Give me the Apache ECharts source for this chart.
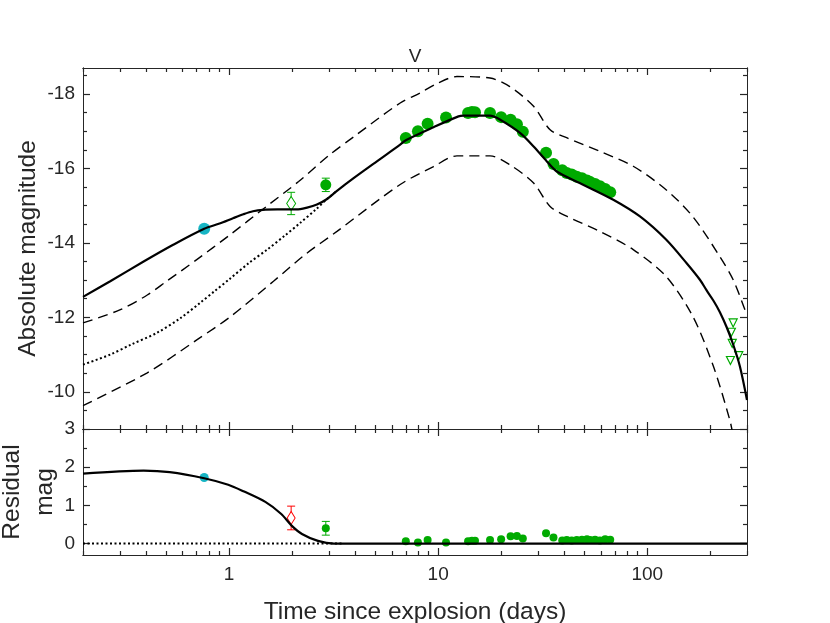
<!DOCTYPE html>
<html>
<head>
<meta charset="utf-8">
<script src="https://cdn.jsdelivr.net/npm/echarts@6/dist/echarts.min.js"></script>
<style>
html, body { margin: 0; padding: 0; background: #fff; }
#container { width: 830px; height: 623px; }
</style>
</head>
<body>
<div id="container"></div>
<script>
// ---- model curves (days, absolute mag) ----
var modelT   = [0.2, 0.27, 0.39, 0.54, 0.76, 0.9, 1.05, 1.17, 1.3, 1.45, 1.7, 2.1, 2.36, 2.63, 2.94, 3.28, 3.94, 5.0, 6.58, 7.0, 9.5, 12.5, 13.2, 17.7, 19.8, 24.7, 28.6, 33.1, 36.9, 47.5, 68.8, 92.3, 123, 154, 178.6, 192, 206.7, 222.6, 239.6, 257.6, 277.5, 300];
var modelMag = [-12.55, -12.97, -13.50, -13.95, -14.38, -14.52, -14.67, -14.77, -14.85, -14.89, -14.90, -14.90, -14.95, -15.03, -15.18, -15.40, -15.74, -16.16, -16.64, -16.76, -17.11, -17.40, -17.42, -17.42, -17.31, -16.95, -16.59, -16.19, -15.92, -15.61, -15.16, -14.71, -14.09, -13.46, -13.01, -12.73, -12.46, -12.14, -11.74, -11.27, -10.68, -9.78];

var baseT   = [0.2, 0.27, 0.34, 0.45, 0.585, 0.73, 0.85, 1.0, 1.25, 1.52, 1.85, 2.19, 2.6, 2.94, 3.28];
var baseMag = [-10.73, -11.00, -11.27, -11.58, -11.98, -12.40, -12.70, -13.02, -13.47, -13.82, -14.20, -14.54, -14.90, -15.18, -15.40];

var upperT   = [0.2, 0.3, 0.406, 0.505, 0.7, 1.0, 1.5, 2.15, 3.0, 3.94, 6.58, 8.2, 10, 12.3, 17.7, 22, 28.6, 34.3, 41.4, 59.3, 85.7, 123, 165, 222, 257.6, 293, 300];
var upperMag = [-11.85, -12.20, -12.60, -12.98, -13.55, -14.20, -14.97, -15.65, -16.35, -16.85, -17.76, -18.03, -18.30, -18.47, -18.43, -18.20, -17.67, -17.04, -16.82, -16.46, -16.06, -15.43, -14.71, -13.64, -13.01, -12.21, -12.05];

var lowerT   = [0.2, 0.406, 0.703, 1.01, 1.63, 2.3, 3.28, 6.58, 9.5, 12.3, 17.7, 22, 28.6, 34.3, 41.4, 59.3, 85.7, 123, 165, 207, 248, 258];
var lowerMag = [-9.63, -10.51, -11.40, -12.01, -12.97, -13.68, -14.31, -15.57, -16.05, -16.34, -16.34, -16.10, -15.61, -14.98, -14.71, -14.31, -13.82, -13.10, -12.03, -10.69, -9.25, -8.80];

// residual curve
var residT   = [0.2, 0.39, 0.52, 0.76, 0.99, 1.18, 1.49, 1.77, 1.99, 2.23, 2.66, 3.17, 4.0, 300];
var residVal = [1.83, 1.91, 1.87, 1.71, 1.54, 1.36, 1.09, 0.78, 0.47, 0.25, 0.07, 0.0, 0.0, 0.0];
var zeroT   = [0.2, 3.5];
var zeroVal = [0, 0];

// ---- observations ----
var cyanT = [0.76];
var cyanMag = [-14.38];
var cyanRes = [1.73];

var diamT = [1.98];
var diamMag = [-15.06];
var diamErr = [0.30];
var diamRes = [0.67];
var diamResErr = [0.31];

var errT = [2.9];
var errMag = [-15.56];
var errErr = [0.18];
var errRes = [0.40];
var errResErr = [0.18];

var obsT   = [7.0, 8.0, 8.9, 10.9, 13.9, 14.5, 15.0, 17.7, 20.0, 22.2, 23.8, 25.4, 32.8, 35.6, 39.2, 41.2, 43.5, 46.0, 48.7, 51.5, 53.3, 56.3, 59.4, 62.9, 66.5];
var obsMag = [-16.82, -17.00, -17.20, -17.37, -17.49, -17.52, -17.51, -17.49, -17.38, -17.31, -17.19, -16.99, -16.42, -16.12, -15.95, -15.88, -15.84, -15.78, -15.74, -15.68, -15.64, -15.58, -15.52, -15.45, -15.36];
var obsRes = [0.06, 0.03, 0.09, 0.03, 0.06, 0.07, 0.07, 0.09, 0.11, 0.19, 0.20, 0.13, 0.27, 0.16, 0.08, 0.09, 0.08, 0.09, 0.10, 0.11, 0.09, 0.10, 0.08, 0.11, 0.10];

var limT   = [257.6, 252.6, 255, 274, 250];
var limMag = [-11.85, -11.60, -11.30, -10.97, -10.84];

// ---- ticks ----
var majorX = [1, 10, 100];
var minorX = [0.2, 0.3, 0.4, 0.5, 0.6, 0.7, 0.8, 0.9, 2, 3, 4, 5, 6, 7, 8, 9, 20, 30, 40, 50, 60, 70, 80, 90, 200, 300];
var topMajorY = [-18, -16, -14, -12, -10];
var topMinorY = [-18.5, -17.5, -17, -16.5, -15.5, -15, -14.5, -13.5, -13, -12.5, -11.5, -11, -10.5, -9.5];
var botMajorY = [0, 1, 2, 3];
var botMinorY = [0.5, 1.5, 2.5];

var INK = '#262626';
var GREEN = '#00aa00';
var CYAN = '#17b5c4';
var RED = '#ff0000';
var FONT = 'Liberation Sans, Arial, sans-serif';

function pairs(ts, vs) {
    return ts.map(function (t, i) { return [t, vs[i]]; });
}
function triples(ts, vs, es) {
    return ts.map(function (t, i) { return [t, vs[i], es[i]]; });
}

function xAxisDef(gi, pos, vals, len, labels) {
    return {
        type: 'log', logBase: 10, gridIndex: gi, position: pos,
        min: 0.2, max: 300,
        axisLine: { show: true, onZero: false, lineStyle: { color: INK, width: 1 } },
        axisTick: { show: true, inside: true, length: len, customValues: vals, lineStyle: { color: INK, width: 1.2 } },
        axisLabel: labels ? { show: true, customValues: majorX, color: INK, fontSize: 19, fontFamily: FONT, margin: 10 } : { show: false },
        splitLine: { show: false }
    };
}
function yAxisDef(gi, pos, min, max, inv, vals, len, labelVals) {
    return {
        type: 'value', gridIndex: gi, position: pos, min: min, max: max, inverse: inv,
        axisLine: { show: true, onZero: false, lineStyle: { color: INK, width: 1 } },
        axisTick: { show: true, inside: true, length: len, customValues: vals, lineStyle: { color: INK, width: 1.2 } },
        axisLabel: labelVals ? { show: true, customValues: labelVals, color: INK, fontSize: 19, fontFamily: FONT, margin: 8 } : { show: false },
        splitLine: { show: false }
    };
}

function errorBars(xi, yi, data, color) {
    return {
        type: 'custom', xAxisIndex: xi, yAxisIndex: yi, z: 3,
        renderItem: function (params, api) {
            var x = api.value(0), y = api.value(1), e = api.value(2);
            var a = api.coord([x, y - e]);
            var b = api.coord([x, y + e]);
            var w = 4;
            var st = { stroke: color, lineWidth: 1 };
            return {
                type: 'group',
                children: [
                    { type: 'line', shape: { x1: a[0], y1: a[1], x2: b[0], y2: b[1] }, style: st },
                    { type: 'line', shape: { x1: a[0] - w, y1: a[1], x2: a[0] + w, y2: a[1] }, style: st },
                    { type: 'line', shape: { x1: b[0] - w, y1: b[1], x2: b[0] + w, y2: b[1] }, style: st }
                ]
            };
        },
        data: data
    };
}

var dom = document.getElementById('container');
var myChart = echarts.init(dom, null, { renderer: 'canvas' });

var xAxes = [
    xAxisDef(0, 'bottom', majorX, 7, false),
    xAxisDef(0, 'bottom', minorX, 4, false),
    xAxisDef(0, 'top', majorX, 7, false),
    xAxisDef(0, 'top', minorX, 4, false),
    xAxisDef(1, 'bottom', majorX, 7, true),
    xAxisDef(1, 'bottom', minorX, 4, false),
    xAxisDef(1, 'top', majorX, 7, false),
    xAxisDef(1, 'top', minorX, 4, false)
];
xAxes[4].name = 'Time since explosion (days)';
xAxes[4].nameLocation = 'middle';
xAxes[4].nameGap = 45;
xAxes[4].nameMoveOverlap = false;
xAxes[4].nameTextStyle = { color: INK, fontSize: 24.5, fontFamily: FONT };

var yAxes = [
    yAxisDef(0, 'left', -18.7, -9, true, topMajorY, 7, topMajorY),
    yAxisDef(0, 'left', -18.7, -9, true, topMinorY, 4, null),
    yAxisDef(0, 'right', -18.7, -9, true, topMajorY, 7, null),
    yAxisDef(0, 'right', -18.7, -9, true, topMinorY, 4, null),
    yAxisDef(1, 'left', -0.3, 3, false, botMajorY, 7, botMajorY),
    yAxisDef(1, 'left', -0.3, 3, false, botMinorY, 4, null),
    yAxisDef(1, 'right', -0.3, 3, false, botMajorY, 7, null),
    yAxisDef(1, 'right', -0.3, 3, false, botMinorY, 4, null)
];
yAxes[0].name = 'Absolute magnitude';
yAxes[0].nameLocation = 'middle';
yAxes[0].nameGap = 42;
yAxes[0].nameRotate = 90;
yAxes[0].nameMoveOverlap = false;
yAxes[0].nameTextStyle = { color: INK, fontSize: 24.5, fontFamily: FONT };
yAxes[4].name = 'Residual\nmag';
yAxes[4].nameLocation = 'middle';
yAxes[4].nameGap = 22;
yAxes[4].nameRotate = 90;
yAxes[4].nameMoveOverlap = false;
yAxes[4].nameTextStyle = { color: INK, fontSize: 24.5, fontFamily: FONT, lineHeight: 32.5 };

var option = {
    animation: false,
    backgroundColor: '#fff',
    title: {
        text: 'V', left: 'center', top: 42,
        textStyle: { color: INK, fontSize: 19, fontWeight: 'normal', fontFamily: FONT }
    },
    grid: [
        { left: 83, right: 83, top: 68, height: 361, containLabel: false, outerBoundsMode: 'none' },
        { left: 83, right: 83, top: 429, height: 126, containLabel: false, outerBoundsMode: 'none' }
    ],
    xAxis: xAxes,
    yAxis: yAxes,
    series: [
        // top panel
        { type: 'scatter', xAxisIndex: 0, yAxisIndex: 0, symbol: 'circle', symbolSize: 12,
          itemStyle: { color: GREEN, opacity: 1 }, data: pairs(obsT, obsMag) },
        { type: 'scatter', xAxisIndex: 0, yAxisIndex: 0, symbol: 'circle', symbolSize: 12,
          itemStyle: { color: CYAN, opacity: 1 }, data: pairs(cyanT, cyanMag) },
        errorBars(0, 0, triples(diamT, diamMag, diamErr), GREEN),
        errorBars(0, 0, triples(errT, errMag, errErr), GREEN),
        { type: 'scatter', xAxisIndex: 0, yAxisIndex: 0, symbol: 'diamond', symbolSize: [9, 14],
          itemStyle: { color: '#fff', borderColor: GREEN, borderWidth: 1, opacity: 1 }, z: 4, data: pairs(diamT, diamMag) },
        { type: 'scatter', xAxisIndex: 0, yAxisIndex: 0, symbol: 'circle', symbolSize: 11,
          itemStyle: { color: GREEN, opacity: 1 }, z: 4, data: pairs(errT, errMag) },
        { type: 'scatter', xAxisIndex: 0, yAxisIndex: 0, symbol: 'triangle', symbolRotate: 180, symbolSize: 8,
          itemStyle: { color: 'rgba(0,0,0,0)', borderColor: GREEN, borderWidth: 1.2, opacity: 1 }, data: pairs(limT, limMag) },
        { type: 'line', xAxisIndex: 0, yAxisIndex: 0, showSymbol: false, symbol: 'none', smooth: 0.3, z: 5,
          lineStyle: { color: '#000', width: 1.4, type: [10, 6] }, data: pairs(upperT, upperMag) },
        { type: 'line', xAxisIndex: 0, yAxisIndex: 0, showSymbol: false, symbol: 'none', smooth: 0.3, z: 5,
          lineStyle: { color: '#000', width: 1.4, type: [10, 6] }, data: pairs(lowerT, lowerMag) },
        { type: 'line', xAxisIndex: 0, yAxisIndex: 0, showSymbol: false, symbol: 'none', smooth: 0.3, z: 5,
          lineStyle: { color: '#000', width: 2, type: [2, 2.5] }, data: pairs(baseT, baseMag) },
        { type: 'line', xAxisIndex: 0, yAxisIndex: 0, showSymbol: false, symbol: 'none', smooth: 0.3, z: 6,
          lineStyle: { color: '#000', width: 2.2 }, data: pairs(modelT, modelMag) },

        // residual panel
        { type: 'scatter', xAxisIndex: 4, yAxisIndex: 4, symbol: 'circle', symbolSize: 8,
          itemStyle: { color: GREEN, opacity: 1 }, data: pairs(obsT, obsRes) },
        { type: 'scatter', xAxisIndex: 4, yAxisIndex: 4, symbol: 'circle', symbolSize: 9,
          itemStyle: { color: CYAN, opacity: 1 }, data: pairs(cyanT, cyanRes) },
        errorBars(4, 4, triples(diamT, diamRes, diamResErr), RED),
        errorBars(4, 4, triples(errT, errRes, errResErr), GREEN),
        { type: 'scatter', xAxisIndex: 4, yAxisIndex: 4, symbol: 'diamond', symbolSize: [8, 13],
          itemStyle: { color: '#fff', borderColor: RED, borderWidth: 1, opacity: 1 }, z: 4, data: pairs(diamT, diamRes) },
        { type: 'scatter', xAxisIndex: 4, yAxisIndex: 4, symbol: 'circle', symbolSize: 8,
          itemStyle: { color: GREEN, opacity: 1 }, z: 4, data: pairs(errT, errRes) },
        { type: 'line', xAxisIndex: 4, yAxisIndex: 4, showSymbol: false, symbol: 'none', z: 5,
          lineStyle: { color: '#000', width: 2, type: [2, 2.5] }, data: pairs(zeroT, zeroVal) },
        { type: 'line', xAxisIndex: 4, yAxisIndex: 4, showSymbol: false, symbol: 'none', smooth: 0.3, z: 6,
          lineStyle: { color: '#000', width: 2.2 }, data: pairs(residT, residVal) }
    ]
};

myChart.setOption(option);
window.addEventListener('resize', myChart.resize);
</script>
</body>
</html>
